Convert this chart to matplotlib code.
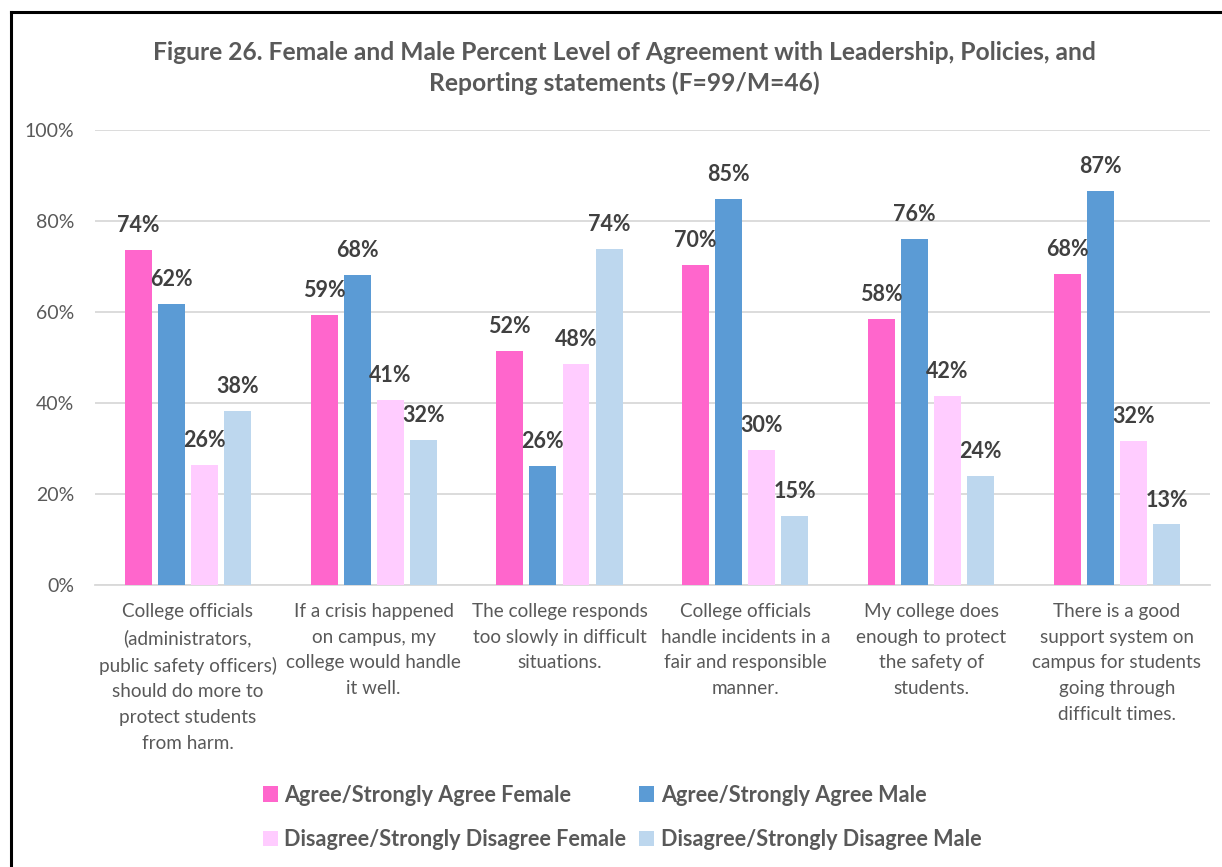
import matplotlib.pyplot as plt
from matplotlib.lines import Line2D
from matplotlib.patches import Patch
import numpy as np

plt.rcParams['font.family'] = ['Lato', 'DejaVu Sans']

categories = [
    "College officials\n(administrators,\npublic safety officers)\nshould do more to\nprotect students\nfrom harm.",
    "If a crisis happened\non campus, my\ncollege would handle\nit well.",
    "The college responds\ntoo slowly in difficult\nsituations.",
    "College officials\nhandle incidents in a\nfair and responsible\nmanner.",
    "My college does\nenough to protect\nthe safety of\nstudents.",
    "There is a good\nsupport system on\ncampus for students\ngoing through\ndifficult times.",
]
series_names = ["Agree/Strongly Agree Female", "Agree/Strongly Agree Male",
                "Disagree/Strongly Disagree Female", "Disagree/Strongly Disagree Male"]
agree_female = [73.7, 59.4, 51.5, 70.3, 58.4, 68.3]
agree_male = [61.7, 68.1, 26.1, 84.8, 76.1, 86.7]
disagree_female = [26.3, 40.6, 48.5, 29.7, 41.6, 31.7]
disagree_male = [38.3, 31.9, 73.9, 15.2, 23.9, 13.3]
colors = ["#FF66CC", "#5B9BD5", "#FFCCFF", "#BDD7EE"]

title = ("Figure 26. Female and Male Percent Level of Agreement with Leadership, Policies, and\n"
         "Reporting statements (F=99/M=46)")

fig = plt.figure(figsize=(12.22, 8.67), dpi=100)
ax = fig.add_axes([0.0777, 0.3253, 0.9123, 0.5247])

x = np.arange(len(categories))
step = 0.178
width = 0.145
all_series = [agree_female, agree_male, disagree_female, disagree_male]
for i, (vals, col, name) in enumerate(zip(all_series, colors, series_names)):
    pos = x + (i - 1.5) * step
    ax.bar(pos, vals, width=width, color=col, label=name, zorder=3)
    for px, v in zip(pos, vals):
        ax.annotate(f"{v:.0f}%", (px, v), xytext=(0, 10), textcoords="offset points",
                    ha="center", va="bottom", fontsize=15.5, fontweight="bold",
                    color="#404040", zorder=4)

ax.set_xlim(-0.5, 5.5)
ax.set_ylim(0, 100)
ax.set_yticks([0, 20, 40, 60, 80, 100])
ax.set_yticklabels([f"{t}%" for t in [0, 20, 40, 60, 80, 100]], fontsize=14, color="#595959")
ax.yaxis.grid(True, color="#D9D9D9", linewidth=1.3, zorder=0)
ax.set_xticks(x)
ax.set_xticklabels(categories, fontsize=13.6, color="#595959", linespacing=1.62, va="top")
ax.tick_params(axis="both", length=0)
ax.tick_params(axis="x", pad=13)
ax.tick_params(axis="y", pad=15)
for s in ["top", "right", "left"]:
    ax.spines[s].set_visible(False)
ax.spines["bottom"].set_color("#D9D9D9")
ax.spines["bottom"].set_linewidth(1.3)

fig.text(0.511, 0.953, title, ha="center", va="top", fontsize=17.7, fontweight="bold",
         color="#595959", linespacing=1.4)

# legend fills column-first, so reorder to read row-wise
order = [0, 2, 1, 3]
handles = [Patch(facecolor=colors[k]) for k in order]
labels = [series_names[k] for k in order]
leg = fig.legend(handles, labels, loc="center", bbox_to_anchor=(0.509, 0.057),
                 ncol=2, frameon=False, handlelength=0.7, handleheight=0.7,
                 handletextpad=0.3, columnspacing=0.6, labelspacing=1.1,
                 prop={"size": 15.6, "weight": "bold"})
for t in leg.get_texts():
    t.set_color("#595959")

# outer border (left and top only)
fig.add_artist(Line2D([11 / 1222, 11 / 1222], [0, 1 - 12 / 867], color="black", linewidth=2.2))
fig.add_artist(Line2D([11 / 1222, 1], [1 - 12 / 867, 1 - 12 / 867], color="black", linewidth=2.2))

fig.savefig("out.png", dpi=100)
